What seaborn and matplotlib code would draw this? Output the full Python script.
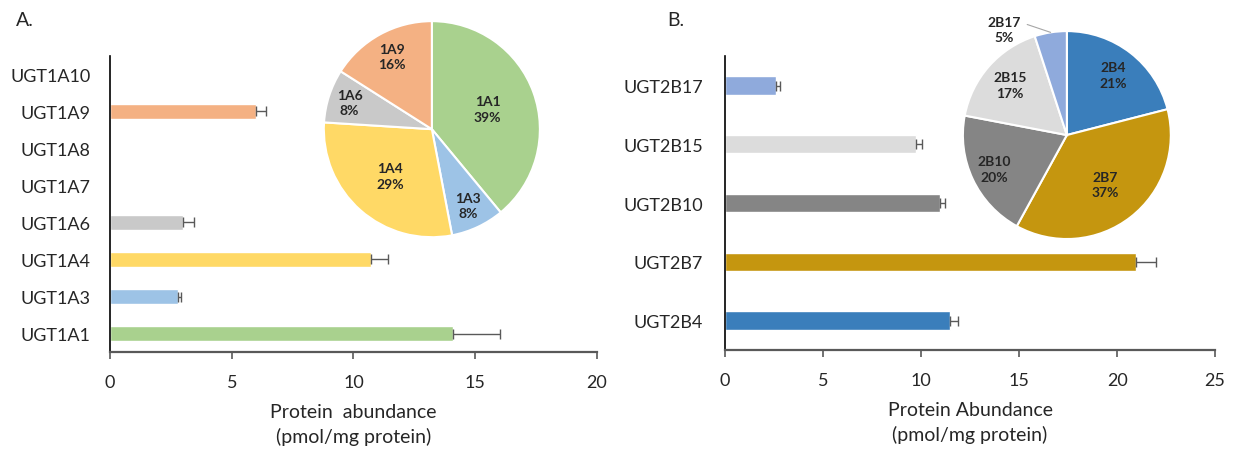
import numpy as np
import matplotlib
matplotlib.use("Agg")
import matplotlib.pyplot as plt
import seaborn as sns

# Panel A data (UGT1A)
ugt1a_names = ["UGT1A10", "UGT1A9", "UGT1A8", "UGT1A7", "UGT1A6", "UGT1A4", "UGT1A3", "UGT1A1"]
ugt1a_values = [0, 6.0, 0, 0, 3.0, 10.7, 2.8, 14.1]
ugt1a_err = [0, 0.4, 0, 0, 0.45, 0.7, 0.1, 1.9]
ugt1a_colors = ["#FFFFFF", "#F4B183", "#FFFFFF", "#FFFFFF", "#C9C9C9", "#FFD966", "#9DC3E6", "#A9D18E"]

pie_a_labels = ["1A1", "1A3", "1A4", "1A6", "1A9"]
pie_a_pct = [39, 8, 29, 8, 16]
pie_a_colors = ["#A9D18E", "#9DC3E6", "#FFD966", "#C9C9C9", "#F4B183"]
pie_a_dist = [0.55, 0.78, 0.58, 0.80, 0.77]

# Panel B data (UGT2B)
ugt2b_names = ["UGT2B17", "UGT2B15", "UGT2B10", "UGT2B7", "UGT2B4"]
ugt2b_values = [2.6, 9.75, 10.95, 20.95, 11.5]
ugt2b_err = [0.2, 0.3, 0.25, 1.05, 0.4]
ugt2b_colors = ["#8FAADC", "#DCDCDC", "#858585", "#C5960F", "#3A7EBB"]

pie_b_labels = ["2B4", "2B7", "2B10", "2B15", "2B17"]
pie_b_pct = [21, 37, 20, 17, 5]
pie_b_colors = ["#3A7EBB", "#C5960F", "#858585", "#DCDCDC", "#8FAADC"]
pie_b_dist = [0.73, 0.60, 0.77, 0.73, None]  # None -> outside label with leader line

sns.set_style("white")
plt.rcParams["font.family"] = ["Lato", "DejaVu Sans"]

fig = plt.figure(figsize=(12.36, 4.52), dpi=100)


def bar_panel(ax, names, values, errs, colors, width, xmax, xlabel, ypad):
    sns.barplot(x=values, y=names, hue=names, palette=colors, order=names,
                hue_order=names, legend=False, width=width, orient="h",
                saturation=1, ax=ax)
    for i, (v, e) in enumerate(zip(values, errs)):
        if v > 0:
            ax.errorbar(v, i, xerr=[[0], [e]], fmt="none", ecolor="#595959",
                        elinewidth=1, capsize=3.5, capthick=1)
    ax.set_xlim(0, xmax)
    ax.set_ylim(len(names) - 0.5, -0.5)
    ax.set_xticks(np.arange(0, xmax + 1, 5))
    sns.despine(ax=ax)
    ax.spines["left"].set_color("#000000")
    ax.spines["left"].set_linewidth(1.2)
    ax.spines["bottom"].set_color("#595959")
    ax.spines["bottom"].set_linewidth(1.6)
    ax.tick_params(axis="x", direction="out", length=5, width=1.2, color="#595959",
                   labelsize=13, pad=11, bottom=True)
    ax.tick_params(axis="y", length=0, labelsize=13, pad=ypad)
    ax.set_xlabel(xlabel, fontsize=14, labelpad=9, linespacing=1.45)
    ax.set_ylabel("")


def pie_panel(ax, labels, pct, colors, dists):
    wedges, _ = ax.pie(pct, colors=colors, startangle=90, counterclock=False,
                       wedgeprops=dict(edgecolor="white", linewidth=1.5))
    for w, lab, p, d in zip(wedges, labels, pct, dists):
        ang = np.deg2rad((w.theta1 + w.theta2) / 2)
        txt = f"{lab}\n{p}%"
        if d is None:
            ax.annotate(txt, xy=(np.cos(ang), np.sin(ang)), xytext=(-46, 3),
                        textcoords="offset pixels", ha="center", va="center",
                        fontsize=10, fontweight="bold", linespacing=1.35,
                        arrowprops=dict(arrowstyle="-", color="#A6A6A6", lw=0.8,
                                        relpos=(1.0, 0.75), shrinkA=2, shrinkB=0))
        else:
            ax.text(d * np.cos(ang), d * np.sin(ang), txt, ha="center", va="center",
                    fontsize=10, fontweight="bold", linespacing=1.35)
    ax.set_xlim(-1, 1)
    ax.set_ylim(-1, 1)
    ax.set_aspect("equal")
    ax.axis("off")


ax_a = fig.add_axes([0.089, 0.219, 0.394, 0.655])
bar_panel(ax_a, ugt1a_names, ugt1a_values, ugt1a_err, ugt1a_colors, 0.39, 20,
          "Protein  abundance\n(pmol/mg protein)", 14)

ax_b = fig.add_axes([0.5866, 0.2235, 0.3965, 0.65])
bar_panel(ax_b, ugt2b_names, ugt2b_values, ugt2b_err, ugt2b_colors, 0.31, 25,
          "Protein Abundance\n(pmol/mg protein)", 16)

pie_a = fig.add_axes([0.262, 0.473, 0.1748, 0.478])
pie_panel(pie_a, pie_a_labels, pie_a_pct, pie_a_colors, pie_a_dist)

pie_b = fig.add_axes([0.779, 0.469, 0.1683, 0.460])
pie_panel(pie_b, pie_b_labels, pie_b_pct, pie_b_colors, pie_b_dist)

fig.text(0.013, 0.955, "A.", fontsize=14, va="center")
fig.text(0.540, 0.955, "B.", fontsize=14, va="center")

plt.savefig("out.png", dpi=100)
plt.close()
